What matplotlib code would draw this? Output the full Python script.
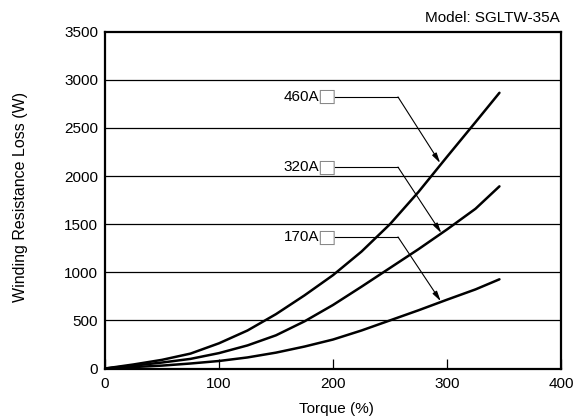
import matplotlib
matplotlib.use('Agg')
import matplotlib.pyplot as plt
import numpy as np

plt.rcParams['font.family'] = ['Liberation Sans', 'DejaVu Sans']

# torque (%) and winding resistance loss (W)
torque = [0, 25, 50, 75, 100, 125, 150, 175, 200, 225, 250, 275, 300, 325, 346]
loss_460 = [0, 42, 90, 155, 262, 395, 565, 760, 970, 1215, 1500, 1835, 2200, 2560, 2865]
loss_320 = [0, 30, 62, 100, 160, 240, 345, 490, 660, 850, 1045, 1240, 1445, 1660, 1893]
loss_170 = [0, 15, 30, 52, 78, 115, 165, 228, 301, 395, 500, 605, 715, 822, 927]

labels = ['460A', '320A', '170A']
label_y = [2822, 2093, 1367]
label_line_x = [202, 257]
arrow_tips = [(294, 2135), (295, 1408), (294.5, 699)]

fig = plt.figure(figsize=(5.78, 4.17), dpi=100)
ax = fig.add_axes([105 / 578, 0.1163, 456 / 578, 0.8077])

for y in range(500, 3500, 500):
    ax.axhline(y, color='black', lw=0.9, zorder=1)

for s in (loss_460, loss_320, loss_170):
    ax.plot(torque, s, color='black', lw=1.8, zorder=3, solid_capstyle='round')

for lab, ly, tip in zip(labels, label_y, arrow_tips):
    ax.text(188, ly, lab, ha='right', va='center', fontsize=11)
    ax.text(194.5, ly, '\u25a1', ha='center', va='center', fontsize=14,
            color='#888888', family='DejaVu Sans')
    ax.plot(label_line_x, [ly, ly], color='black', lw=0.8, zorder=4)
    ax.annotate('', xy=tip, xytext=(label_line_x[1], ly),
                arrowprops=dict(arrowstyle='-|>,head_length=0.6,head_width=0.15',
                                color='black', lw=0.8, shrinkA=0, shrinkB=0), zorder=4)

ax.set_xlim(0, 400)
ax.set_ylim(0, 3500)
ax.set_xticks([0, 100, 200, 300, 400])
ax.set_yticks(range(0, 3501, 500))
ax.tick_params(axis='x', direction='in', length=7, width=0.9, labelsize=11, pad=6)
ax.tick_params(axis='y', length=0, labelsize=11, pad=5)
for sp in ax.spines.values():
    sp.set_linewidth(1.6)

fig.text(336 / 578, 1 - 413 / 417, 'Torque (%)', ha='center', va='baseline', fontsize=11)
fig.text(20.5 / 578, 1 - 196.5 / 417, 'Winding Resistance Loss (W)', rotation=90,
         ha='center', va='center', fontsize=11.5)
fig.text(560 / 578, 1 - 17.5 / 417, 'Model: SGLTW-35A', ha='right', va='center', fontsize=11)

fig.savefig('out.png', dpi=100)
